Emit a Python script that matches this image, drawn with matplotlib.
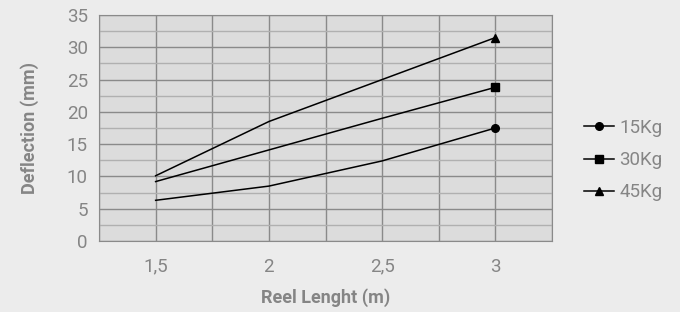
import matplotlib.pyplot as plt
from matplotlib.ticker import MultipleLocator, FuncFormatter

reel = [1.5, 2, 2.5, 3]
defl_15 = [6.3, 8.5, 12.4, 17.5]
defl_30 = [9.2, 14.1, 19.0, 23.8]
defl_45 = [10.1, 18.5, 25.0, 31.5]
series = [("15Kg", defl_15, "o"), ("30Kg", defl_30, "s"), ("45Kg", defl_45, "^")]

plt.rcParams['font.family'] = ['Roboto', 'DejaVu Sans']
gris = "#858585"

fig = plt.figure(figsize=(6.8, 3.12), dpi=100, facecolor="#ececec")
ax = fig.add_axes([0.1456, 0.2276, 0.6662, 0.7244])
ax.set_facecolor("#dcdcdc")

for nombre, valores, marca in series:
    ax.plot(reel, valores, color="black", lw=1.1, marker=marca, markersize=5.5,
            markevery=[len(reel) - 1], label=nombre)

ax.set_xlim(1.25, 3.25)
ax.set_ylim(0, 35)
ax.xaxis.set_major_locator(MultipleLocator(0.5))
ax.xaxis.set_minor_locator(MultipleLocator(0.25))
ax.yaxis.set_major_locator(MultipleLocator(5))
ax.yaxis.set_minor_locator(MultipleLocator(2.5))
ax.xaxis.set_major_formatter(FuncFormatter(lambda v, p: ("%g" % v).replace(".", ",")))
ax.grid(True, which="both", axis="x", color="#8a8a8a", lw=1)
ax.grid(True, which="major", axis="y", color="#8a8a8a", lw=1)
ax.grid(True, which="minor", axis="y", color="#b0b0b0", lw=1)
ax.set_axisbelow(True)
for s in ax.spines.values():
    s.set_color("#8a8a8a")
ax.tick_params(which="both", length=0, labelsize=13.5, labelcolor=gris)
ax.tick_params(axis="x", pad=12)
ax.tick_params(axis="y", pad=8)

ax.set_xlabel("Reel Lenght (m)", fontsize=13, color=gris, fontweight="bold", labelpad=9)
ax.set_ylabel("Deflection (mm)", fontsize=13, color=gris, fontweight="bold", labelpad=20)

leg = ax.legend(loc="center left", bbox_to_anchor=(1.07, 0.358), frameon=False,
                fontsize=13.5, labelcolor=gris, borderpad=0, borderaxespad=0,
                handlelength=1.6, handletextpad=0.3, labelspacing=0.75)

plt.savefig("out.png", dpi=100, facecolor=fig.get_facecolor())
